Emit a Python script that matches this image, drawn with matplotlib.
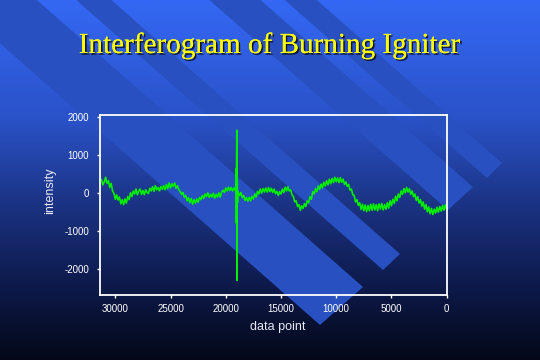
import numpy as np
import matplotlib
matplotlib.use("Agg")
import matplotlib.pyplot as plt
from matplotlib.colors import LinearSegmentedColormap
from matplotlib.patches import Polygon
import matplotlib.patheffects as pe

plt.rcParams["axes.unicode_minus"] = False

# ── data ──────────────────────────────────────────────────────────────────────

TITLE = "Interferogram of Burning Igniter"
X_LABEL = "data point"
Y_LABEL = "intensity"

data_point = [
    31250, 31125, 31000, 30875, 30750, 30625, 30500, 30375, 30250, 30125,
    30000, 29875, 29750, 29625, 29500, 29375, 29250, 29125, 29000, 28875,
    28750, 28625, 28500, 28375, 28250, 28125, 28000, 27875, 27750, 27625,
    27500, 27375, 27250, 27125, 27000, 26875, 26750, 26625, 26500, 26375,
    26250, 26125, 26000, 25875, 25750, 25625, 25500, 25375, 25250, 25125,
    25000, 24875, 24750, 24625, 24500, 24375, 24250, 24125, 24000, 23875,
    23750, 23625, 23500, 23375, 23250, 23125, 23000, 22875, 22750, 22625,
    22500, 22375, 22250, 22125, 22000, 21875, 21750, 21625, 21500, 21375,
    21250, 21125, 21000, 20875, 20750, 20625, 20500, 20375, 20250, 20125,
    20000, 19875, 19750, 19625, 19500, 19375, 19250,
    # centre burst
    19100, 19060, 19040, 19020, 19000, 18980, 18960, 18940, 18900,
    18750, 18625, 18500, 18375, 18250, 18125, 18000, 17875, 17750, 17625,
    17500, 17375, 17250, 17125, 17000, 16875, 16750, 16625, 16500, 16375,
    16250, 16125, 16000, 15875, 15750, 15625, 15500, 15375, 15250, 15125,
    15000, 14875, 14750, 14625, 14500, 14375, 14250, 14125, 14000, 13875,
    13750, 13625, 13500, 13375, 13250, 13125, 13000, 12875, 12750, 12625,
    12500, 12375, 12250, 12125, 12000, 11875, 11750, 11625, 11500, 11375,
    11250, 11125, 11000, 10875, 10750, 10625, 10500, 10375, 10250, 10125,
    10000, 9875, 9750, 9625, 9500, 9375, 9250, 9125, 9000, 8875,
    8750, 8625, 8500, 8375, 8250, 8125, 8000, 7875, 7750, 7625,
    7500, 7375, 7250, 7125, 7000, 6875, 6750, 6625, 6500, 6375,
    6250, 6125, 6000, 5875, 5750, 5625, 5500, 5375, 5250, 5125,
    5000, 4875, 4750, 4625, 4500, 4375, 4250, 4125, 4000, 3875,
    3750, 3625, 3500, 3375, 3250, 3125, 3000, 2875, 2750, 2625,
    2500, 2375, 2250, 2125, 2000, 1875, 1750, 1625, 1500, 1375,
    1250, 1125, 1000, 875, 750, 625, 500, 375, 250, 125,
    0,
]
intensity = [
    360, 220, 300, 420, 260, 330, 150, 260, 60, 0,
    -160, -40, -180, -100, -280, -170, -300, -150, -260, -90,
    -170, 10, -90, 60, -20, 110, -40, 60, 110, -30,
    70, -40, 90, 20, -10, 130, 60, 170, 50, 200,
    90, 150, 60, 180, 100, 200, 90, 230, 120, 270,
    140, 250, 180, 270, 130, 200, 90, 40, -30, 20,
    -110, -60, -200, -120, -250, -140, -290, -170, -260, -150,
    -240, -110, -170, -60, -140, -20, -90, 10, -110, -30,
    -100, 0, -130, -30, -100, 10, -100, 30, 80, 20,
    140, 60, 160, 70, 150, 60, 140,
    # centre burst
    60, 650, -790, 920, 1660, -2290, 350, -250, 40,
    -60, 20, -120, -60, -190, -120, -210, -110, -200, -80,
    -150, -20, -100, 50, -20, 110, 0, 120, 30, 140,
    30, 150, 40, 130, 20, 110, -10, 50, -60, 40,
    -20, 110, 20, 160, 60, 170, 60, 90, -40, -90,
    -230, -200, -350, -300, -450, -330, -400, -270, -350, -200,
    -250, -90, -160, 40, -20, 120, 40, 190, 100, 240,
    140, 290, 190, 330, 220, 370, 250, 390, 280, 420,
    300, 400, 280, 410, 290, 370, 230, 300, 180, 230,
    80, 110, -40, -60, -230, -170, -320, -250, -430, -290,
    -460, -310, -480, -320, -460, -290, -450, -280, -440, -300,
    -460, -280, -420, -270, -440, -300, -420, -250, -390, -200,
    -330, -160, -270, -80, -200, -20, -110, 60, -30, 120,
    10, 150, 30, 120, -30, 60, -90, -20, -190, -90,
    -260, -170, -340, -230, -420, -300, -490, -360, -540, -400,
    -560, -420, -520, -370, -500, -350, -470, -320, -450, -310,
    -420,
]

x_ticks = [30000, 25000, 20000, 15000, 10000, 5000, 0]
y_ticks = [2000, 1000, 0, -1000, -2000]

# ── style ─────────────────────────────────────────────────────────────────────

W, H = 540, 360
BG_STOPS = [(0.0, "#3468f4"), (0.33, "#2a52c8"), (0.55, "#1c3588"),
            (0.78, "#0e1b4e"), (1.0, "#040818")]
STRIPE_COLOR = "#2850c0"
SLOPE = 0.88  # band direction in pixel space (down-right)
# (tip, end corner) of each decorative band, in pixels
STRIPES = [((320, 325), (363, 287)),
           ((383, 270), (400, 254)),
           ((448, 210), (473, 187)),
           ((487, 178), (502, 163))]

fig = plt.figure(figsize=(W / 100, H / 100), dpi=100)

# background gradient + diagonal bands
bg = fig.add_axes([0, 0, 1, 1], zorder=0)
cmap = LinearSegmentedColormap.from_list("bg", BG_STOPS)
grad = np.linspace(0, 1, 256).reshape(-1, 1)
bg.imshow(grad, cmap=cmap, aspect="auto", extent=[0, W, H, 0])
d = np.array([1.0, SLOPE]) / np.hypot(1.0, SLOPE)
for tip, corner in STRIPES:
    tip, corner = np.array(tip, float), np.array(corner, float)
    pts = [tip - 900 * d, tip, corner, corner - 900 * d]
    bg.add_patch(Polygon(pts, closed=True, facecolor=STRIPE_COLOR,
                         edgecolor="none"))
bg.set_xlim(0, W)
bg.set_ylim(H, 0)
bg.axis("off")

# main plot
ax = fig.add_axes([0.1857, 0.1814, 0.6415, 0.4983], zorder=1)
ax.patch.set_alpha(0)
ax.plot(data_point, intensity, color="#00ee00", linewidth=1.2)
ax.set_xlim(31360, 0)
ax.set_ylim(-2670, 2050)
ax.set_xticks(x_ticks)
ax.set_yticks(y_ticks)
for s in ax.spines.values():
    s.set_color("white")
    s.set_linewidth(1.3)
ax.tick_params(axis="x", colors="white", length=2.5, width=1, pad=4.5,
               labelsize=7)
ax.tick_params(axis="y", colors="white", length=2, width=1, pad=6,
               labelsize=7)
for lab in ax.get_xticklabels() + ax.get_yticklabels():
    lab.set_family("Liberation Sans")

fig.text(50 / W, 1 - 191 / H, Y_LABEL, rotation=90, ha="center", va="center",
         color="#e8e8f4", fontsize=9, family="Liberation Sans")
fig.text(278 / W, 1 - 327 / H, X_LABEL, ha="center", va="center",
         color="#e8e8f4", fontsize=9, family="Liberation Sans")

fig.text(269 / W, 1 - 53 / H, TITLE, ha="center", va="baseline",
         color="#ffff00", fontsize=21, family="Liberation Serif",
         path_effects=[pe.withSimplePatchShadow(offset=(1.2, -1.2),
                                                shadow_rgbFace="#101020",
                                                alpha=0.9),
                       pe.Normal()])

plt.savefig("out.png", dpi=100)
